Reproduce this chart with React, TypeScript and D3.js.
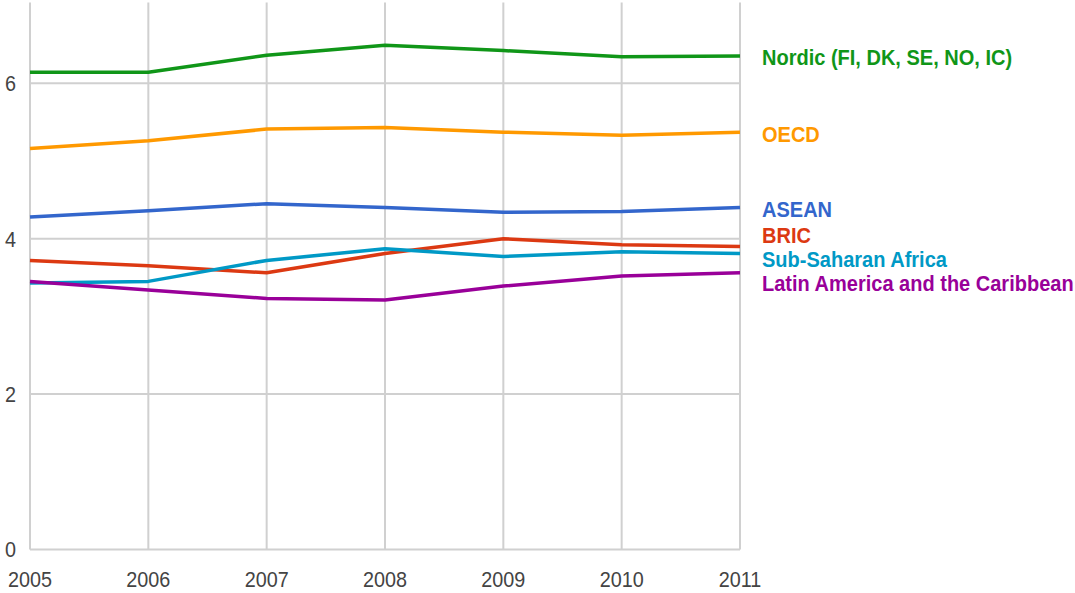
import React from "react";
import * as d3 from "d3";

const years = [2005, 2006, 2007, 2008, 2009, 2010, 2011];
const seriesNames = [
  "Nordic (FI, DK, SE, NO, IC)",
  "OECD",
  "ASEAN",
  "BRIC",
  "Sub-Saharan Africa",
  "Latin America and the Caribbean",
];
const nordic = [6.14, 6.14, 6.36, 6.49, 6.42, 6.34, 6.35];
const oecd = [5.16, 5.26, 5.41, 5.43, 5.37, 5.33, 5.37];
const asean = [4.28, 4.36, 4.45, 4.4, 4.34, 4.35, 4.4];
const bric = [3.72, 3.65, 3.56, 3.81, 4.0, 3.92, 3.9];
const subSaharan = [3.43, 3.45, 3.72, 3.87, 3.77, 3.83, 3.81];
const latAm = [3.45, 3.34, 3.23, 3.21, 3.39, 3.52, 3.56];
const yTicks = [0, 2, 4, 6];
const colors = ["#109618", "#ff9900", "#3366cc", "#dc3912", "#0099c6", "#990099"];

const allValues = [nordic, oecd, asean, bric, subSaharan, latAm];

const W = 1075;
const H = 593;
const left = 30;
const right = 740;
const top = 5.5;
const bottom = 549.5;
// the original text looks a bit squeezed sideways
const squeeze = 0.9;

// spread end labels apart so they don't overlap
function spreadLabels(ys: number[], gap: number) {
  const items = ys.map((y, i) => ({ i, y, pos: y })).sort((a, b) => a.y - b.y);
  let groups = items.map((it) => [it]);
  const place = (g: typeof items) => {
    const mean = d3.mean(g, (d) => d.y)!;
    const start = mean - ((g.length - 1) * gap) / 2;
    g.forEach((d, k) => (d.pos = start + k * gap));
  };
  let changed = true;
  while (changed) {
    changed = false;
    const next: typeof groups = [];
    for (const g of groups) {
      place(g);
      const prev = next[next.length - 1];
      if (prev && g[0].pos - prev[prev.length - 1].pos < gap) {
        next[next.length - 1] = prev.concat(g);
        changed = true;
      } else {
        next.push(g);
      }
    }
    groups = next;
    groups.forEach(place);
  }
  const out: number[] = [];
  items.forEach((d) => (out[d.i] = d.pos));
  return out;
}

export default function App() {
  const x = d3.scaleLinear().domain([2005, 2011]).range([left, right]);
  const y = d3.scaleLinear().domain([0, 7]).range([bottom, top]);
  const line = d3
    .line<number>()
    .x((_, i) => x(years[i]))
    .y((d) => y(d));

  const labelY = spreadLabels(
    allValues.map((v) => y(v[v.length - 1])),
    24
  );

  return (
    <svg
      width={W}
      height={H}
      style={{ position: "absolute", left: 0, top: 0, background: "#fff" }}
      fontFamily="'Liberation Sans', Arial, sans-serif"
    >
      <g stroke="#d0d0d0" strokeWidth={2}>
        {years.map((yr) => (
          <line key={yr} x1={x(yr)} x2={x(yr)} y1={top - 3} y2={bottom} />
        ))}
        {yTicks.map((t) => (
          <line key={t} x1={left} x2={right} y1={y(t)} y2={y(t)} />
        ))}
      </g>
      {yTicks.map((t) => (
        <text
          key={t}
          transform={`translate(16,${y(t)}) scale(${squeeze},1)`}
          dy="0.36em"
          textAnchor="end"
          fontSize={22}
          fill="#444"
        >
          {t}
        </text>
      ))}
      {years.map((yr) => (
        <text
          key={yr}
          transform={`translate(${x(yr)},587) scale(${squeeze},1)`}
          textAnchor="middle"
          fontSize={22}
          fill="#444"
        >
          {yr}
        </text>
      ))}
      {allValues.map((v, i) => (
        <path
          key={i}
          d={line(v) ?? ""}
          fill="none"
          stroke={colors[i]}
          strokeWidth={3.5}
          strokeLinejoin="round"
        />
      ))}
      {seriesNames.map((name, i) => (
        <text
          key={name}
          transform={`translate(762,${labelY[i]}) scale(0.91,1)`}
          dy="0.43em"
          fontSize={22}
          fontWeight="bold"
          fill={colors[i]}
        >
          {name}
        </text>
      ))}
    </svg>
  );
}
